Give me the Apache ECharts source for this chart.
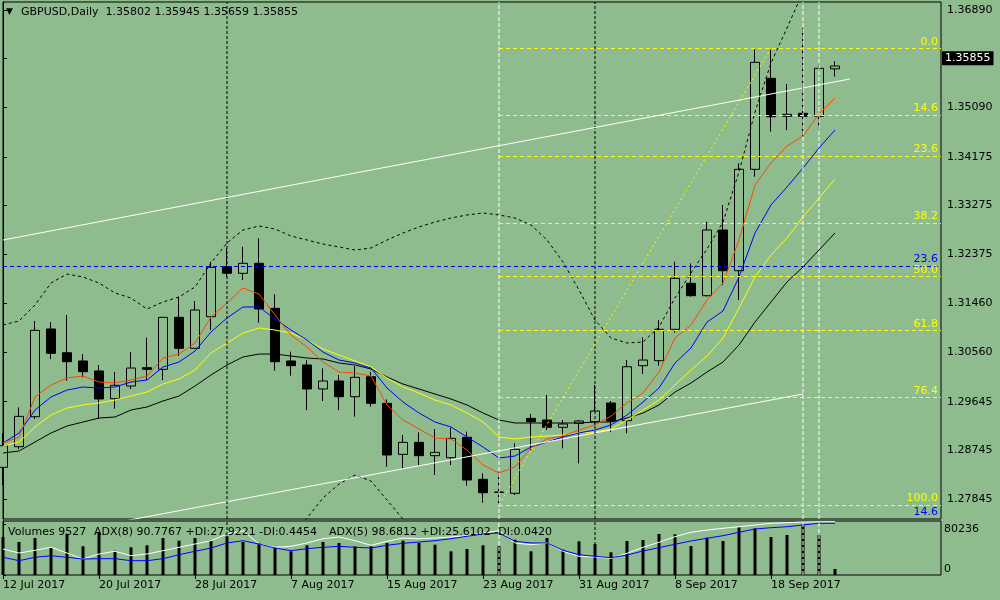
<!DOCTYPE html>
<html lang="en">
<head>
<meta charset="UTF-8">
<title>GBPUSD, Daily</title>
<script src="https://cdn.jsdelivr.net/npm/echarts@6/dist/echarts.min.js"></script>
<style>
    html, body { margin: 0; padding: 0; background: #8fbc8f; }
    #chart { width: 1000px; height: 600px; }
</style>
</head>
<body>
<div id="chart"></div>
<script>
// ---------------- bars (12 Jul 2017 .. 22 Sep 2017) ----------------
const dates = [
    '12 Jul 2017', '13 Jul 2017', '14 Jul 2017', '17 Jul 2017', '18 Jul 2017', '19 Jul 2017', '20 Jul 2017',
    '21 Jul 2017', '24 Jul 2017', '25 Jul 2017', '26 Jul 2017', '27 Jul 2017', '28 Jul 2017', '31 Jul 2017',
    '1 Aug 2017', '2 Aug 2017', '3 Aug 2017', '4 Aug 2017', '7 Aug 2017', '8 Aug 2017', '9 Aug 2017',
    '10 Aug 2017', '11 Aug 2017', '14 Aug 2017', '15 Aug 2017', '16 Aug 2017', '17 Aug 2017', '18 Aug 2017',
    '21 Aug 2017', '22 Aug 2017', '23 Aug 2017', '24 Aug 2017', '25 Aug 2017', '28 Aug 2017', '29 Aug 2017',
    '30 Aug 2017', '31 Aug 2017', '1 Sep 2017', '4 Sep 2017', '5 Sep 2017', '6 Sep 2017', '7 Sep 2017',
    '8 Sep 2017', '11 Sep 2017', '12 Sep 2017', '13 Sep 2017', '14 Sep 2017', '15 Sep 2017', '18 Sep 2017',
    '19 Sep 2017', '20 Sep 2017', '21 Sep 2017', '22 Sep 2017'
];
// empty space to the right of the last bar (chart shift)
const padDates = ['25 Sep 2017', '26 Sep 2017', '27 Sep 2017', '28 Sep 2017', '29 Sep 2017', '2 Oct 2017'];

const openP = [
    1.28431, 1.28812, 1.29367, 1.30990, 1.30551, 1.30398, 1.30213, 1.29700, 1.29935, 1.30274,
    1.30244, 1.31206, 1.30632, 1.31217, 1.32142, 1.32020, 1.32205, 1.31372, 1.30398, 1.30324,
    1.29880, 1.30028, 1.29737, 1.30107, 1.29615, 1.28671, 1.28893, 1.28646, 1.28609, 1.28986,
    1.28209, 1.27968, 1.27950, 1.29337, 1.29306, 1.29171, 1.29245, 1.29275, 1.29621, 1.29293,
    1.30311, 1.30403, 1.30984, 1.31835, 1.31606, 1.32821, 1.32068, 1.33944, 1.35627, 1.34924,
    1.34980, 1.34924, 1.35802
];
const highP = [
    1.29060, 1.29541, 1.31138, 1.31119, 1.31249, 1.30527, 1.30324, 1.30194, 1.30564, 1.30829,
    1.31212, 1.31587, 1.31508, 1.32235, 1.32482, 1.32512, 1.32667, 1.31631, 1.30570, 1.30416,
    1.30262, 1.30139, 1.30305, 1.30200, 1.29689, 1.29029, 1.29078, 1.29140, 1.29164, 1.29090,
    1.28320, 1.28350, 1.28875, 1.29417, 1.29769, 1.29306, 1.29306, 1.29954, 1.29658, 1.30416,
    1.30836, 1.31156, 1.32235, 1.32205, 1.32975, 1.33284, 1.34055, 1.36164, 1.36164, 1.35522,
    1.36552, 1.35874, 1.35945
];
const lowP = [
    1.28104, 1.28770, 1.29325, 1.30435, 1.30033, 1.30096, 1.29325, 1.29515, 1.29880, 1.30046,
    1.30046, 1.30490, 1.30620, 1.30971, 1.31952, 1.31896, 1.31106, 1.30218, 1.30126, 1.29491,
    1.29658, 1.29491, 1.29367, 1.29552, 1.28442, 1.28412, 1.28474, 1.28289, 1.28474, 1.28091,
    1.27776, 1.27734, 1.27919, 1.28751, 1.29121, 1.28782, 1.28505, 1.29214, 1.29084, 1.29060,
    1.30157, 1.30311, 1.30921, 1.31587, 1.31587, 1.31804, 1.31526, 1.33807, 1.34640, 1.34671,
    1.34547, 1.34690, 1.35659
];
const closeP = [
    1.28831, 1.29374, 1.30965, 1.30540, 1.30385, 1.30200, 1.29695, 1.29948, 1.30268, 1.30244,
    1.31206, 1.30632, 1.31341, 1.32131, 1.32020, 1.32205, 1.31360, 1.30385, 1.30311, 1.29880,
    1.30028, 1.29737, 1.30096, 1.29615, 1.28659, 1.28893, 1.28646, 1.28708, 1.28967, 1.28196,
    1.27961, 1.27974, 1.28764, 1.29275, 1.29171, 1.29232, 1.29288, 1.29473, 1.29288, 1.30292,
    1.30416, 1.30984, 1.31927, 1.31606, 1.32821, 1.32068, 1.33944, 1.35923, 1.34917, 1.34961,
    1.34924, 1.35812, 1.35855
];
const volumes = [
    60140, 52230, 58560, 43840, 65360, 45420, 66470, 38460, 43840, 47000,
    58560, 54280, 58560, 54920, 61250, 52230, 50640, 43840, 37510, 47000,
    52230, 50640, 45420, 45420, 50640, 54280, 50640, 47950, 37510, 41150,
    47000, 45420, 55870, 37510, 58560, 40040, 53330, 49060, 35930, 53810,
    55390, 64890, 64410, 45900, 59030, 53810, 75490, 73910, 60140, 63300,
    80236, 63300, 9527
];

// ---------------- moving averages / bands ----------------
const maRed = [
    1.28881, 1.28992, 1.29732, 1.29954, 1.30083, 1.30120, 1.30009, 1.29991, 1.30046, 1.30120,
    1.30453, 1.30527, 1.30731, 1.31212, 1.31471, 1.31748, 1.31637, 1.31249, 1.30879, 1.30657,
    1.30379, 1.30194, 1.30176, 1.30120, 1.29584, 1.29306, 1.29140, 1.28973, 1.28955, 1.28751,
    1.28474, 1.28326, 1.28437, 1.28788, 1.28955, 1.29010, 1.29121, 1.29214, 1.29380, 1.29621,
    1.29806, 1.30194, 1.30823, 1.31064, 1.31526, 1.31841, 1.32636, 1.33654, 1.34061, 1.34375,
    1.34560, 1.34967, 1.35263
];
const maBlue = [
    1.28881, 1.29066, 1.29491, 1.29732, 1.29861, 1.29917, 1.29898, 1.29917, 1.30009, 1.30046,
    1.30287, 1.30379, 1.30583, 1.30934, 1.31193, 1.31397, 1.31397, 1.31175, 1.30971, 1.30786,
    1.30564, 1.30416, 1.30361, 1.30268, 1.29898, 1.29639, 1.29436, 1.29269, 1.29177, 1.28992,
    1.28807, 1.28603, 1.28640, 1.28807, 1.28899, 1.28992, 1.29066, 1.29121, 1.29214, 1.29399,
    1.29639, 1.29898, 1.30361, 1.30638, 1.31119, 1.31323, 1.31952, 1.32766, 1.33284, 1.33617,
    1.33968, 1.34338, 1.34671
];
const maYellow = [
    1.28825, 1.28899, 1.29177, 1.29399, 1.29528, 1.29584, 1.29621, 1.29676, 1.29750, 1.29824,
    1.29972, 1.30065, 1.30231, 1.30546, 1.30731, 1.30916, 1.31008, 1.30971, 1.30916, 1.30786,
    1.30620, 1.30509, 1.30398, 1.30287, 1.30083, 1.29917, 1.29806, 1.29676, 1.29584, 1.29436,
    1.29269, 1.28992, 1.28955, 1.28992, 1.29010, 1.29029, 1.29066, 1.29084, 1.29140, 1.29306,
    1.29491, 1.29676, 1.29954, 1.30231, 1.30490, 1.30823, 1.31378, 1.31952, 1.32359, 1.32673,
    1.33062, 1.33413, 1.33765
];
const maBlack = [
    1.28696, 1.28733, 1.28899, 1.29066, 1.29195, 1.29269, 1.29343, 1.29362, 1.29491, 1.29547,
    1.29658, 1.29750, 1.29935, 1.30139, 1.30324, 1.30472, 1.30527, 1.30527, 1.30490, 1.30453,
    1.30435, 1.30361, 1.30324, 1.30250, 1.30102, 1.29972, 1.29880, 1.29787, 1.29695, 1.29584,
    1.29436, 1.29306, 1.29251, 1.29251, 1.29251, 1.29251, 1.29251, 1.29269, 1.29269, 1.29343,
    1.29436, 1.29584, 1.29824, 1.29991, 1.30194, 1.30379, 1.30694, 1.31119, 1.31489, 1.31859,
    1.32137, 1.32451, 1.32766
];
const bandUpper = [
    1.31064, 1.31138, 1.31434, 1.31841, 1.32007, 1.31952, 1.31841, 1.31656, 1.31563, 1.31360,
    1.31489, 1.31582, 1.31767, 1.32211, 1.32581, 1.32821, 1.32895, 1.32840, 1.32710, 1.32636,
    1.32562, 1.32507, 1.32451, 1.32488, 1.32636, 1.32766, 1.32877, 1.32969, 1.33043, 1.33099,
    1.33136, 1.33099, 1.33043, 1.32914, 1.32636, 1.32229, 1.31711, 1.31156, 1.30823, 1.30731,
    1.30749, 1.31027, 1.31563, 1.32026, 1.32470, 1.32969, 1.33894, 1.35004, 1.35911, 1.36558,
    1.37224, null, null
];
const bandLower = [
    null, null, null, null, null, null, null, null, null, null,
    null, null, null, null, null, null, null, null, 1.27086, 1.27493,
    1.27863, 1.28122, 1.28289, 1.28178, 1.27826, 1.27475, 1.27086, null, null, null,
    null, null, null, null, null, null, null, null, null, null,
    null, null, null, null, null, null, null, null, null, null,
    null, null, null
];

// ADX lines in the volume window (0..100 of window height)
const adxWhite = [
    48.1, 40.7, 45.7, 51.3, 40.7, 29.6, 38.9, 43.9, 35.7, 38.9,
    45.0, 51.3, 57.4, 63.5, 75.9, 82.0, 57.4, 51.3, 53.1, 59.3,
    67.2, 70.4, 63.5, 55.0, 62.4, 68.5, 67.2, 68.5, 70.4, 72.8,
    77.8, 82.0, 59.3, 56.1, 59.3, 43.9, 34.6, 33.3, 30.9, 40.2,
    51.3, 60.6, 70.9, 79.1, 83.3, 86.5, 89.4, 92.6, 95.7, 96.9,
    98.1, 98.7, 98.7
];
const adxBlue = [
    32.8, 26.5, 32.8, 35.7, 32.8, 29.6, 30.2, 30.2, 26.5, 26.5,
    30.2, 37.6, 43.9, 50.0, 59.3, 63.5, 57.4, 50.0, 45.0, 48.7,
    51.3, 53.1, 51.3, 50.0, 55.0, 58.7, 61.1, 63.5, 67.2, 71.7,
    75.9, 77.8, 62.4, 59.3, 59.3, 45.7, 37.6, 34.6, 32.0, 37.0,
    44.4, 50.6, 56.9, 63.0, 68.0, 72.8, 79.1, 85.2, 87.6, 89.4,
    92.6, 95.7, 95.7
];

// ---------------- objects (bar index, price) ----------------
const fibLevels = ['0.0', '14.6', '23.6', '38.2', '50.0', '61.8', '76.4', '100.0'];
const fibPrices = [1.36182, 1.34949, 1.34188, 1.32955, 1.31958, 1.30961, 1.29728, 1.27734];
const fibStartBar = 31;
const fibDiagonal = [[31, 1.27734], [48, 1.36182]];
const blueFibLevels = ['23.6', '14.6'];
const blueFibPrices = [1.32155, 1.27475];
const channelUpper = [[0, 1.32636], [52.94, 1.35615]];
const channelLower = [[7.31, 1.27424], [50, 1.29787]];
const blackVLines = [14, 37];
const whiteVLines = [31, 50, 51];

// axis labels
const priceTicks = [1.36890, 1.35990, 1.35090, 1.34175, 1.33275, 1.32375, 1.31460, 1.30560, 1.29645, 1.28745, 1.27845];
const volTicks = [0, 80236];
const lastPrice = 1.35855;

// ---------------- chart ----------------
const FONT = 'DejaVu Sans';
const GREEN = '#8fbc8f';
const N = dates.length;
const allDates = dates.concat(padDates);
const xSpan = 58.625;              // visible width in bars
const priceMin = 1.27475, priceMax = 1.37039;
const volMax = 85460;
const labelBar = (i) => i % 6 === 0 && i < N;

const candles = dates.map((d, i) => [openP[i], closeP[i], lowP[i], highP[i]]);

function maLine(data, color, type) {
    return {
        type: 'line', xAxisIndex: 0, yAxisIndex: 0, data: data, symbol: 'none',
        lineStyle: { color: color, width: 1, type: type || 'solid' }, z: 3, silent: true
    };
}
function objLine(points, color, type, xi, yi) {
    return {
        type: 'line', xAxisIndex: xi, yAxisIndex: yi, data: points, symbol: 'none',
        lineStyle: { color: color, width: 1, type: type }, z: 4, silent: true
    };
}

const series = [
    {
        type: 'candlestick', xAxisIndex: 0, yAxisIndex: 0, data: candles, barWidth: 9, z: 2,
        itemStyle: { color: GREEN, color0: '#000', borderColor: '#000', borderColor0: '#000', borderWidth: 1 }
    },
    maLine(maBlack, '#000'),
    maLine(maYellow, '#ffff00'),
    maLine(maBlue, '#0000ff'),
    maLine(maRed, '#ff4500'),
    maLine(bandUpper, '#000', [3, 3]),
    maLine(bandLower, '#000', [3, 3]),
    {
        type: 'bar', xAxisIndex: 1, yAxisIndex: 1, data: volumes, barWidth: 3, z: 3,
        itemStyle: { color: '#000' }, silent: true
    },
    {
        type: 'line', xAxisIndex: 1, yAxisIndex: 2, data: adxWhite, symbol: 'none',
        lineStyle: { color: '#fff', width: 1 }, z: 4, silent: true
    },
    {
        type: 'line', xAxisIndex: 1, yAxisIndex: 2, data: adxBlue, symbol: 'none',
        lineStyle: { color: '#0000ff', width: 1 }, z: 4, silent: true
    }
];

// channel lines + current price label (kept unclipped so the label can sit on the axis)
const upper = objLine(channelUpper, '#fff', 'solid', 2, 3);
upper.clip = false;
upper.z = 6;
upper.markLine = {
    symbol: 'none', silent: true, animation: false,
    data: [{
        yAxis: lastPrice, lineStyle: { color: 'rgba(0,0,0,0)', width: 1 },
        label: {
            show: true, position: 'end', distance: 1, formatter: lastPrice.toFixed(5),
            backgroundColor: '#000', color: '#fff', padding: [2, 3, 1, 3],
            fontSize: 11, fontFamily: FONT
        }
    }]
};
series.push(upper);
series.push(objLine(channelLower, '#fff', 'solid', 2, 3));

// fibonacci
const fib = objLine(fibDiagonal, '#ffff00', [2, 3], 2, 3);
const fibMarks = fibLevels.map((lvl, i) => [
    {
        coord: [fibStartBar, fibPrices[i]],
        lineStyle: { color: '#ffff00', type: [4, 3], width: 1 },
        label: { formatter: lvl, color: '#ffff00' }
    },
    { coord: [xSpan, fibPrices[i]] }
]);
const blueMarks = blueFibLevels.map((lvl, i) => [
    {
        coord: [0, blueFibPrices[i]],
        lineStyle: { color: i === 0 ? '#0000ff' : 'rgba(0,0,0,0)', type: [4, 3], width: 1 },
        label: { formatter: lvl, color: '#0000ff' }
    },
    { coord: [xSpan, blueFibPrices[i]] }
]);
fib.markLine = {
    symbol: 'none', silent: true, animation: false,
    label: { position: 'insideEndTop', distance: [3, 1], fontSize: 11, fontFamily: FONT },
    data: fibMarks.concat(blueMarks)
};
series.push(fib);

// vertical lines over both windows
blackVLines.forEach(k => {
    series.push(objLine([[k, priceMin], [k, priceMax]], '#000', [3, 2], 2, 3));
    series.push(objLine([[k, 0], [k, volMax]], '#000', [3, 2], 3, 4));
});
whiteVLines.forEach(k => {
    series.push(objLine([[k, priceMin], [k, priceMax]], '#fff', [4, 2], 2, 3));
    series.push(objLine([[k, 0], [k, volMax]], '#fff', [4, 2], 3, 4));
});

const txt = (x, y, text, size) => ({
    type: 'text', x: x, y: y, silent: true, z: 10,
    style: { text: text, fill: '#000', font: (size || 11) + 'px "' + FONT + '"', verticalAlign: 'middle' }
});

const option = {
    animation: false,
    backgroundColor: GREEN,
    grid: [
        { left: 3, top: 2, width: 928, height: 517, outerBoundsMode: 'none' },
        { left: 3, top: 521, width: 928, height: 54, outerBoundsMode: 'none' },
        { left: 3, top: 2, right: 59, height: 517, show: true, borderColor: '#000', borderWidth: 1, backgroundColor: 'transparent', outerBoundsMode: 'none' },
        { left: 3, top: 521, right: 59, height: 54, show: true, borderColor: '#000', borderWidth: 1, backgroundColor: 'transparent', outerBoundsMode: 'none' }
    ],
    xAxis: [
        { type: 'category', gridIndex: 0, data: allDates, boundaryGap: false, show: false },
        {
            type: 'category', gridIndex: 1, data: allDates, boundaryGap: false,
            axisLine: { show: false },
            axisTick: { show: true, interval: labelBar, length: 4, lineStyle: { color: '#000' } },
            axisLabel: { interval: labelBar, align: 'left', margin: 5, color: '#000', fontSize: 11, fontFamily: FONT },
            splitLine: { show: false }
        },
        { type: 'value', gridIndex: 2, min: 0, max: xSpan, show: false },
        { type: 'value', gridIndex: 3, min: 0, max: xSpan, show: false }
    ],
    yAxis: [
        { type: 'value', gridIndex: 0, min: priceMin, max: priceMax, show: false },
        { type: 'value', gridIndex: 1, min: 0, max: volMax, show: false },
        { type: 'value', gridIndex: 1, min: 0, max: 100, show: false },
        {
            type: 'value', gridIndex: 2, position: 'right', min: priceMin, max: priceMax,
            axisLine: { show: true, lineStyle: { color: '#000' } },
            axisTick: { show: true, customValues: priceTicks, length: 4, lineStyle: { color: '#000' } },
            axisLabel: {
                customValues: priceTicks, margin: 6, color: '#000', fontSize: 11, fontFamily: FONT,
                formatter: v => v.toFixed(5)
            },
            splitLine: { show: false }
        },
        {
            type: 'value', gridIndex: 3, position: 'right', min: 0, max: volMax,
            axisLine: { show: true, lineStyle: { color: '#000' } },
            axisTick: { show: true, customValues: volTicks, length: 3, lineStyle: { color: '#000' } },
            axisLabel: {
                customValues: volTicks, margin: 3, color: '#000', fontSize: 11, fontFamily: FONT,
                formatter: v => v === 0 ? '{lo|0}' : '{hi|' + v + '}',
                rich: {
                    lo: { fontSize: 11, fontFamily: FONT, color: '#000', padding: [0, 0, 12, 0] },
                    hi: { fontSize: 11, fontFamily: FONT, color: '#000', padding: [9, 0, 0, 0] }
                }
            },
            splitLine: { show: false }
        }
    ],
    graphic: [
        txt(6, 12, '▼', 9),
        txt(21, 12.5, 'GBPUSD,Daily  1.35802 1.35945 1.35659 1.35855'),
        txt(8, 532, 'Volumes 9527'),
        txt(94, 532, 'ADX(8) 90.7767 +DI:27.9221 -DI:0.4454'),
        txt(329, 532, 'ADX(5) 98.6812 +DI:25.6102 -DI:0.0420')
    ],
    series: series
};

const chart = echarts.init(document.getElementById('chart'));
chart.setOption(option);
</script>
</body>
</html>
